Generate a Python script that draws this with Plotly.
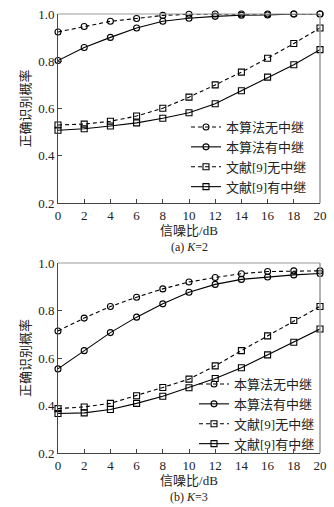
import plotly.graph_objects as go
from plotly.subplots import make_subplots

snr = [0, 2, 4, 6, 8, 10, 12, 14, 16, 18, 20]
x_ticks = [0, 2, 4, 6, 8, 10, 12, 14, 16, 18, 20]
y_ticks = [0.2, 0.4, 0.6, 0.8, 1.0]
y_tick_labels = ["0.2", "0.4", "0.6", "0.8", "1.0"]

names = ["本算法无中继", "本算法有中继", "文献[9]无中继", "文献[9]有中继"]

# (a) K=2
ours_norelay_a = [0.924, 0.947, 0.969, 0.981, 0.994, 0.999, 1.0, 1.0, 1.0, 1.0, 1.0]
ours_relay_a = [0.803, 0.858, 0.901, 0.941, 0.969, 0.982, 0.990, 0.995, 0.996, 1.0, 1.0]
ref_norelay_a = [0.530, 0.534, 0.546, 0.568, 0.601, 0.648, 0.700, 0.754, 0.813, 0.875, 0.941]
ref_relay_a = [0.508, 0.514, 0.526, 0.539, 0.559, 0.582, 0.620, 0.675, 0.733, 0.785, 0.849]

# (b) K=3
ours_norelay_b = [0.714, 0.768, 0.817, 0.856, 0.891, 0.920, 0.939, 0.955, 0.964, 0.967, 0.967]
ours_relay_b = [0.554, 0.631, 0.707, 0.772, 0.828, 0.877, 0.910, 0.931, 0.941, 0.950, 0.956]
ref_norelay_b = [0.387, 0.394, 0.409, 0.441, 0.476, 0.511, 0.567, 0.631, 0.693, 0.758, 0.817]
ref_relay_b = [0.366, 0.369, 0.383, 0.409, 0.439, 0.475, 0.514, 0.559, 0.613, 0.666, 0.722]

x_title = "信噪比/dB"
y_title = "正确识别概率"
captions = ["(a) <i>K</i>=2", "(b) <i>K</i>=3"]

FONT = "Liberation Serif, Times New Roman, Noto Sans CJK SC, serif"
W, H = 334, 507
# plot area edges in window pixels
L_WIN, R_WIN = 58, 320
TOP_A, BOT_A = 14, 203
TOP_B, BOT_B = 263, 453
ML, MR, MT, MB = L_WIN, W - R_WIN, TOP_A, H - BOT_B
PH = H - MT - MB
PW = W - ML - MR


def py(win):
    return (H - MB - win) / PH


def px(win):
    return (win - ML) / PW


fig = make_subplots(rows=2, cols=1)
fig.update_layout(
    yaxis=dict(domain=[py(BOT_A), py(TOP_A)]),
    yaxis2=dict(domain=[py(BOT_B), py(TOP_B)]),
)

styles = [
    dict(dash="4px,3px", symbol="circle-open"),
    dict(dash="solid", symbol="circle-open"),
    dict(dash="4px,3px", symbol="square-open"),
    dict(dash="solid", symbol="square-open"),
]

series = [
    (1, "legend", [ours_norelay_a, ours_relay_a, ref_norelay_a, ref_relay_a]),
    (2, "legend2", [ours_norelay_b, ours_relay_b, ref_norelay_b, ref_relay_b]),
]
for row, leg, data in series:
    for name, vals, st in zip(names, data, styles):
        fig.add_trace(
            go.Scatter(
                x=snr, y=vals, name=name, mode="lines+markers",
                line=dict(color="black", width=1.1, dash=st["dash"]),
                marker=dict(symbol=st["symbol"], size=6, color="black",
                            line=dict(width=1.1, color="black")),
                legend=leg, cliponaxis=False,
            ),
            row=row, col=1,
        )

axis_common = dict(
    showgrid=False, zeroline=False, showline=True, linecolor="#444", linewidth=1,
    ticks="inside", ticklen=4, tickcolor="#444", automargin=False,
    ticklabeloverflow="allow",
    tickfont=dict(family=FONT, size=13, color="#222"),
)
for r in (1, 2):
    fig.update_xaxes(range=[0, 20], tickvals=x_ticks, ticktext=[str(v) for v in x_ticks],
                     title=dict(text=x_title, font=dict(family=FONT, size=13, color="#222"),
                                standoff=2),
                     ticklabelstandoff=0,
                     row=r, col=1, **axis_common)
    fig.update_yaxes(range=[0.2, 1.0], tickvals=y_ticks, ticktext=y_tick_labels,
                     title=dict(text=y_title, font=dict(family=FONT, size=13, color="#222"),
                                standoff=4),
                     row=r, col=1, **axis_common)

shapes = []
for xr, yr in (("x domain", "y domain"), ("x2 domain", "y2 domain")):
    shapes.append(dict(type="line", xref=xr, yref=yr, x0=0, x1=1, y0=1, y1=1,
                       line=dict(color="#999", width=1)))
    shapes.append(dict(type="line", xref=xr, yref=yr, x0=1, x1=1, y0=0, y1=1,
                       line=dict(color="#999", width=1.5)))

annotations = []
for cap, pix in zip(captions, (247, 497)):
    annotations.append(dict(text=cap, xref="paper", yref="paper", x=px(189), y=py(pix),
                            xanchor="center", yanchor="middle", showarrow=False,
                            font=dict(family=FONT, size=12, color="#222")))

legend_style = dict(
    bgcolor="rgba(0,0,0,0)", borderwidth=0,
    font=dict(family=FONT, size=13, color="#222"),
    xanchor="left", yanchor="middle", tracegroupgap=0, itemwidth=30,
)

fig.update_layout(
    width=W, height=H,
    margin=dict(l=ML, r=MR, t=MT, b=MB, autoexpand=False),
    paper_bgcolor="white", plot_bgcolor="white",
    shapes=shapes, annotations=annotations,
    legend=dict(x=px(186), y=py(157), **legend_style),
    legend2=dict(x=px(194), y=py(414), **legend_style),
    showlegend=True,
)

fig.write_html(
    "out.html",
    config={"displayModeBar": False},
    post_script="document.body.style.margin='0';document.body.style.overflow='hidden';",
)
